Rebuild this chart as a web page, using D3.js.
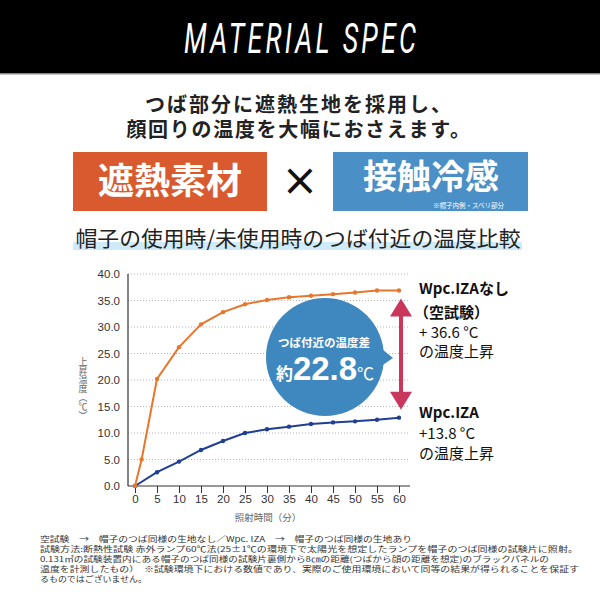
<!DOCTYPE html>
<meta charset="utf-8">
<script src="https://d3js.org/d3.v7.min.js"></script>
<style>
	body{margin:0;background:#fff;}
	svg{display:block;}
	text{font-family:"Noto Sans CJK JP","Noto Sans",sans-serif;}
</style>
<div id="chart"></div>
<script>
// --- data ---
var noneTimes = [0,1.5,5,10,15,20,25,30,35,40,45,50,55,60]
var noneValues = [0,5.0,20.2,26.2,30.5,32.8,34.3,35.1,35.6,35.9,36.2,36.5,36.9,36.9]
var izaTimes = [0,5,10,15,20,25,30,35,40,45,50,55,60]
var izaValues = [0,2.6,4.6,6.8,8.5,10.0,10.7,11.2,11.7,12.0,12.2,12.5,12.9]
var yTicks = [0,5,10,15,20,25,30,35,40]
var xTicks = [0,5,10,15,20,25,30,35,40,45,50,55,60]
var diffLabel = "22.8"
var noneLabel = ["Wpc.IZAなし","（空試験）","+ 36.6 °C","の温度上昇"]
var izaLabel = ["Wpc.IZA","+13.8 °C","の温度上昇"]
var notes = [
	"空試験　→　帽子のつば同様の生地なし／Wpc. IZA　→　帽子のつば同様の生地あり",
	"試験方法:断熱性試験 赤外ランプ60℃法(25±1℃の環境下で太陽光を想定したランプを帽子のつば同様の試験片に照射。",
	"0.131㎥の試験装置内にある帽子のつば同様の試験片裏側から8㎝の距離(つばから顔の距離を想定)のブラックパネルの",
	"温度を計測したもの）　※試験環境下における数値であり、実際のご使用環境において同等の結果が得られることを保証す",
	"るものではございません。"
]
var noteWidths = [372,538,509,539,107]

var w = 600, h = 600
var orange = "#e8772e", navy = "#1f3f93", bubble = "#3f88bf", arrowCol = "#c9385c"

var svg = d3.select("#chart").append("svg").attr("width",w).attr("height",h)

// header band
svg.append("rect").attr("x",0).attr("y",0).attr("width",w).attr("height",74).attr("fill","#000")
svg.append("rect").attr("x",0).attr("y",73).attr("width",w).attr("height",1.5).attr("fill","#888")
svg.append("text").text("MATERIAL SPEC")
	.attr("transform","translate(300,53) scale(0.64,1)")
	.attr("text-anchor","middle")
	.attr("textLength",232/0.64).attr("lengthAdjust","spacing")
	.style("font-family","Roboto, 'DejaVu Sans', sans-serif")
	.style("font-style","italic").style("font-weight",400)
	.style("font-size","42px").attr("fill","#fff")

// lead copy
svg.append("text").text("つば部分に遮熱生地を採用し、").attr("x",299).attr("y",112)
	.attr("text-anchor","middle").style("font-size","20px").style("font-weight",700)
	.style("letter-spacing","2px").attr("fill","#222")
svg.append("text").text("顔回りの温度を大幅におさえます。").attr("x",299).attr("y",137)
	.attr("text-anchor","middle").style("font-size","20px").style("font-weight",700)
	.style("letter-spacing","1.7px").attr("fill","#222")

// two boxes
svg.append("rect").attr("x",73).attr("y",152).attr("width",194).attr("height",59).attr("fill","#d95a2e")
svg.append("text").text("遮熱素材").attr("x",170).attr("y",194).attr("text-anchor","middle")
	.style("font-size","36px").style("font-weight",700).attr("fill","#fff")
svg.append("text").text("×").attr("x",300).attr("y",195).attr("text-anchor","middle")
	.style("font-size","44px").style("font-family","'DejaVu Sans', sans-serif").attr("fill","#111")
svg.append("rect").attr("x",333).attr("y",152).attr("width",195).attr("height",59).attr("fill","#4a8fc6")
svg.append("text").text("接触冷感").attr("x",431).attr("y",189).attr("text-anchor","middle")
	.style("font-size","34px").style("font-weight",700).attr("fill","#fff")
svg.append("text").text("※帽子内側・スベリ部分").attr("x",504).attr("y",207.5).attr("text-anchor","end")
	.style("font-size","6.5px").attr("fill","#fff")

// chart heading with highlight
svg.append("rect").attr("x",73).attr("y",242).attr("width",449).attr("height",8).attr("fill","#cfeaf8")
svg.append("text").text("帽子の使用時/未使用時のつば付近の温度比較").attr("x",298).attr("y",246)
	.attr("text-anchor","middle").attr("textLength",445).attr("lengthAdjust","spacingAndGlyphs")
	.style("font-size","21px").attr("fill","#222")

// scales
var x = d3.scaleLinear().domain([0,60]).range([135,399])
var y = d3.scaleLinear().domain([0,40]).range([486,274])
var left = x(0)-7, right = x(60)+11

// grid
svg.append("g").selectAll("line").data(yTicks.slice(1)).join("line")
	.attr("x1",left).attr("x2",right).attr("y1",d=>y(d)).attr("y2",d=>y(d))
	.attr("stroke","#b5b5b5").attr("stroke-dasharray","1 2").attr("stroke-width",1)

// y axis
var yAxis = d3.axisLeft(y).tickValues(yTicks).tickFormat(d3.format(".1f")).tickSize(0).tickPadding(8)
var gy = svg.append("g").attr("transform","translate("+left+",0)").call(yAxis)
gy.select(".domain").remove()
gy.selectAll("text").style("font-family","'Liberation Sans', Arial, sans-serif").style("font-size","11.5px").attr("fill","#333")

// x axis
var xAxis = d3.axisBottom(x).tickValues(xTicks).tickSize(7).tickPadding(2)
var gx = svg.append("g").attr("transform","translate(0,"+y(0)+")").call(xAxis)
gx.select(".domain").remove()
gx.selectAll("line").attr("stroke","#333")
gx.selectAll("text").style("font-family","'Liberation Sans', Arial, sans-serif").style("font-size","11.5px").attr("fill","#333")

// frame lines
svg.append("line").attr("x1",left).attr("x2",left).attr("y1",y(40)).attr("y2",y(0)).attr("stroke","#333").attr("stroke-width",1.2)
svg.append("line").attr("x1",left).attr("x2",right).attr("y1",y(0)).attr("y2",y(0)).attr("stroke","#333").attr("stroke-width",1.2)

// axis titles
svg.append("text").text("上昇温度（℃）").attr("transform","translate(83,357)")
	.style("writing-mode","vertical-rl").style("font-size","9px").attr("fill","#666")
svg.append("text").text("照射時間（分）").attr("x",268).attr("y",521).attr("text-anchor","middle")
	.style("font-size","9.5px").attr("fill","#666")

// series
var none = noneTimes.map((t,i)=>({t:t,v:noneValues[i]}))
var iza = izaTimes.map((t,i)=>({t:t,v:izaValues[i]}))
var line = d3.line().x(d=>x(d.t)).y(d=>y(d.v))

svg.append("path").datum(iza).attr("d",line).attr("fill","none").attr("stroke",navy).attr("stroke-width",2)
svg.append("g").selectAll("circle").data(iza).join("circle")
	.attr("cx",d=>x(d.t)).attr("cy",d=>y(d.v)).attr("r",2.2).attr("fill",navy)
svg.append("path").datum(none).attr("d",line).attr("fill","none").attr("stroke",orange).attr("stroke-width",2)
svg.append("g").selectAll("circle").data(none).join("circle")
	.attr("cx",d=>x(d.t)).attr("cy",d=>y(d.v)).attr("r",2.2).attr("fill",orange)

// difference bubble
var bx = 325, by = 357
svg.append("circle").attr("cx",bx).attr("cy",by).attr("r",59).attr("fill",bubble)
svg.append("path").attr("d","M"+(bx+52)+","+(by-12)+"L"+(bx+68)+","+(by+1)+"L"+(bx+52)+","+(by+12)+"Z").attr("fill",bubble)
svg.append("text").text("つば付近の温度差").attr("x",bx-1).attr("y",by-10).attr("text-anchor","middle")
	.style("font-size","11.5px").style("font-weight",700).attr("fill","#fff")
var big = svg.append("text").attr("x",bx).attr("y",by+23).attr("text-anchor","middle").attr("fill","#fff")
big.append("tspan").text("約").style("font-size","17px").style("font-weight",700)
big.append("tspan").text(diffLabel).style("font-size","33px").style("font-weight",700)
	.style("font-family","'Liberation Sans', Arial, sans-serif")
big.append("tspan").text("℃").style("font-size","17px")

// arrow between the two ends
var ax = 401
var aTop = y(noneValues[noneValues.length-1])+8, aBot = y(izaValues[izaValues.length-1])-8
svg.append("line").attr("x1",ax).attr("x2",ax).attr("y1",aTop+14).attr("y2",aBot-14).attr("stroke",arrowCol).attr("stroke-width",4)
svg.append("path").attr("d","M"+ax+","+aTop+"L"+(ax+11)+","+(aTop+18)+"L"+(ax-11)+","+(aTop+18)+"Z").attr("fill",arrowCol)
svg.append("path").attr("d","M"+ax+","+aBot+"L"+(ax+11)+","+(aBot-18)+"L"+(ax-11)+","+(aBot-18)+"Z").attr("fill",arrowCol)

// end labels
var noneY = [294,318,338,357]
noneLabel.forEach(function(s,i){
	svg.append("text").text(s).attr("x",i==1?414:419).attr("y",noneY[i])
		.style("font-size","15px").style("font-weight",i<2?700:400).attr("fill","#111")
})
var izaY = [418,439,459]
izaLabel.forEach(function(s,i){
	svg.append("text").text(s).attr("x",419).attr("y",izaY[i])
		.style("font-size","15px").style("font-weight",i<1?700:400).attr("fill","#111")
})

// footnotes
notes.forEach(function(s,i){
	svg.append("text").text(s).attr("x",40).attr("y",542+i*10)
		.attr("textLength",noteWidths[i]).attr("lengthAdjust","spacingAndGlyphs")
		.style("font-size","7.6px").attr("fill","#333")
})
</script>
